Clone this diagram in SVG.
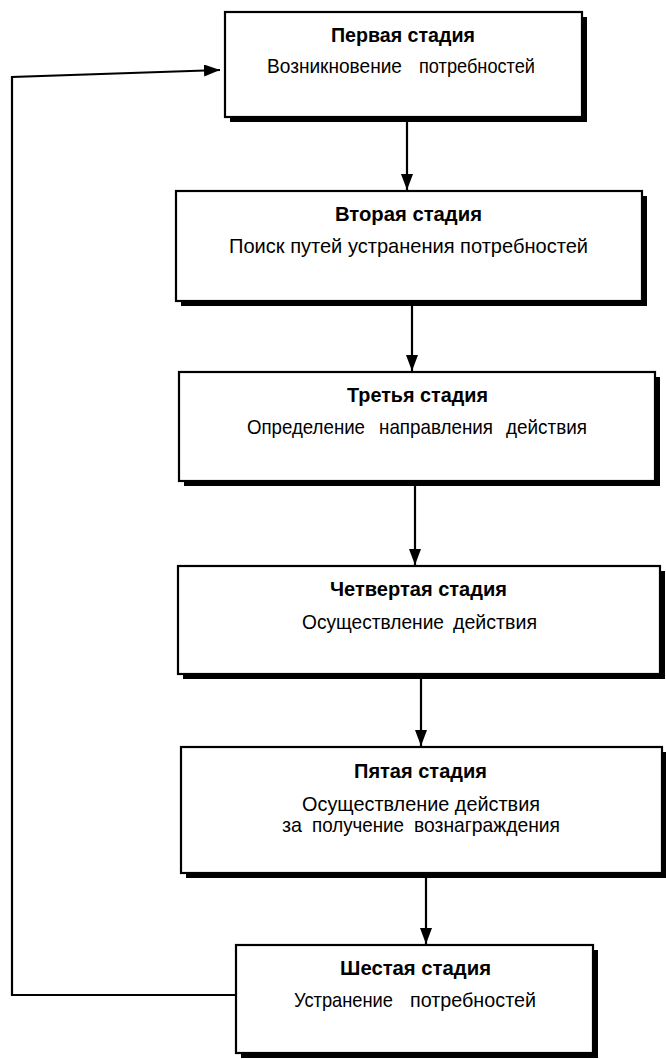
<svg xmlns="http://www.w3.org/2000/svg" width="666" height="1059" viewBox="0 0 666 1059">
<defs>
<style>
.shadow{fill:#000}
.box{fill:#fff;stroke:#000;stroke-width:2.2}
.t{font-family:"Liberation Sans Narrow","Liberation Sans",Arial,sans-serif;font-size:21px;font-weight:bold;fill:#000}
.s{font-family:"Liberation Sans Narrow","Liberation Sans",Arial,sans-serif;font-size:21px;fill:#000}
.conn{fill:none;stroke:#000;stroke-width:2.2}
</style>
<marker id="arr" markerUnits="userSpaceOnUse" markerWidth="16" markerHeight="12" refX="16" refY="6" orient="auto">
<path d="M0,0 L16,6 L0,12 z" fill="#000"/>
</marker>
</defs>
<rect width="666" height="1059" fill="#fff"/>
<g id="connectors">
<line class="conn" x1="407" y1="119" x2="407" y2="190" marker-end="url(#arr)"/>
<line class="conn" x1="412" y1="303" x2="412" y2="371" marker-end="url(#arr)"/>
<line class="conn" x1="415" y1="483" x2="415" y2="565" marker-end="url(#arr)"/>
<line class="conn" x1="421" y1="676" x2="421" y2="746" marker-end="url(#arr)"/>
<line class="conn" x1="426" y1="875" x2="426" y2="944" marker-end="url(#arr)"/>
<path class="conn" d="M236,995 L12,995 L12,77 L220,70" marker-end="url(#arr)"/>
</g>
<g id="stage1">
<rect class="shadow" x="230" y="17" width="357" height="105"/>
<rect class="box" x="225" y="12" width="357" height="105"/>
<text class="t" x="331" y="42" textLength="144" lengthAdjust="spacingAndGlyphs">Первая стадия</text>
<text class="s" x="267" y="73" textLength="135" lengthAdjust="spacingAndGlyphs">Возникновение</text>
<text class="s" x="419" y="73" textLength="116" lengthAdjust="spacingAndGlyphs">потребностей</text>
</g>
<g id="stage2">
<rect class="shadow" x="181" y="196" width="466" height="110"/>
<rect class="box" x="176" y="191" width="466" height="110"/>
<text class="t" x="335" y="221" textLength="147" lengthAdjust="spacingAndGlyphs">Вторая стадия</text>
<text class="s" x="229" y="253" textLength="359" lengthAdjust="spacingAndGlyphs">Поиск путей устранения потребностей</text>
</g>
<g id="stage3">
<rect class="shadow" x="184" y="377" width="476" height="109"/>
<rect class="box" x="179" y="372" width="476" height="109"/>
<text class="t" x="347" y="402" textLength="141" lengthAdjust="spacingAndGlyphs">Третья  стадия</text>
<text class="s" x="247" y="434" textLength="118" lengthAdjust="spacingAndGlyphs">Определение</text>
<text class="s" x="379" y="434" textLength="114" lengthAdjust="spacingAndGlyphs">направления</text>
<text class="s" x="506" y="434" textLength="81" lengthAdjust="spacingAndGlyphs">действия</text>
</g>
<g id="stage4">
<rect class="shadow" x="183" y="571" width="482" height="108"/>
<rect class="box" x="178" y="566" width="482" height="108"/>
<text class="t" x="330" y="596" textLength="177" lengthAdjust="spacingAndGlyphs">Четвертая стадия</text>
<text class="s" x="302" y="629" textLength="142" lengthAdjust="spacingAndGlyphs">Осуществление</text>
<text class="s" x="453" y="629" textLength="84" lengthAdjust="spacingAndGlyphs">действия</text>
</g>
<g id="stage5">
<rect class="shadow" x="186" y="752" width="481" height="126"/>
<rect class="box" x="181" y="747" width="481" height="126"/>
<text class="t" x="354" y="778" textLength="133" lengthAdjust="spacingAndGlyphs">Пятая стадия</text>
<text class="s" x="302" y="811" textLength="238" lengthAdjust="spacingAndGlyphs">Осуществление действия</text>
<text class="s" x="282" y="832" textLength="20" lengthAdjust="spacingAndGlyphs">за</text>
<text class="s" x="312" y="832" textLength="92" lengthAdjust="spacingAndGlyphs">получение</text>
<text class="s" x="414" y="832" textLength="146" lengthAdjust="spacingAndGlyphs">вознаграждения</text>
</g>
<g id="stage6">
<rect class="shadow" x="241" y="950" width="357" height="108"/>
<rect class="box" x="236" y="945" width="357" height="108"/>
<text class="t" x="340" y="975" textLength="151" lengthAdjust="spacingAndGlyphs">Шестая стадия</text>
<text class="s" x="294" y="1007" textLength="99" lengthAdjust="spacingAndGlyphs">Устранение</text>
<text class="s" x="410" y="1007" textLength="126" lengthAdjust="spacingAndGlyphs">потребностей</text>
</g>
</svg>
